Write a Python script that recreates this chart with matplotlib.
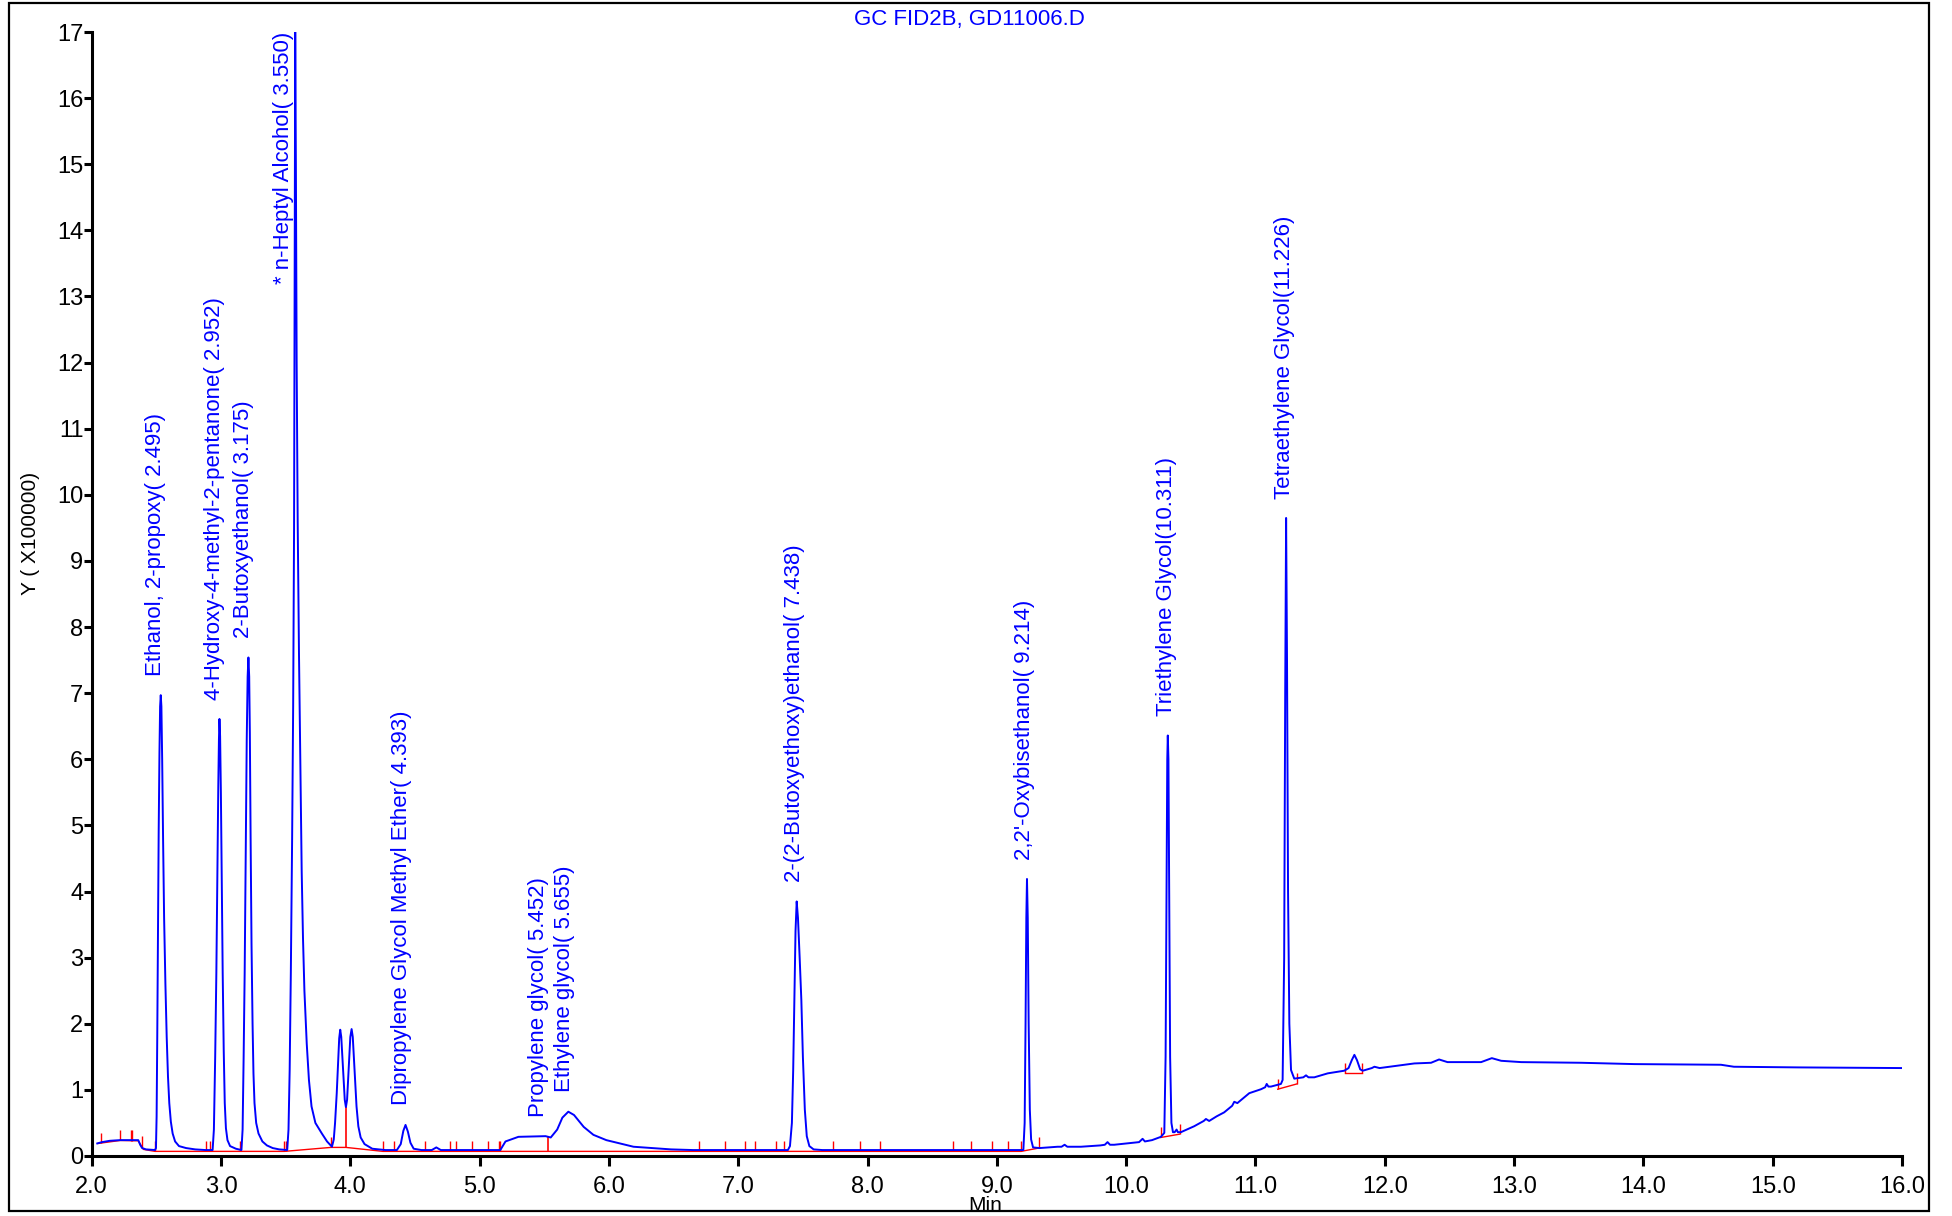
import numpy as np
import matplotlib
matplotlib.use("Agg")
import matplotlib.pyplot as plt
from matplotlib import font_manager
from matplotlib.patches import Rectangle

# ---------------- data ----------------
title_text = "GC FID2B, GD11006.D"
x_label = "Min"
y_label = "Y ( X100000)"

x_ticks = [2.0, 3.0, 4.0, 5.0, 6.0, 7.0, 8.0, 9.0, 10.0, 11.0, 12.0, 13.0, 14.0, 15.0, 16.0]
y_ticks = list(range(0, 18))

time_min = [
    2.043, 2.08, 2.14, 2.22, 2.30, 2.36, 2.375, 2.39, 2.42, 2.490,
    2.497, 2.502, 2.507, 2.512, 2.518, 2.524, 2.529, 2.534, 2.539, 2.545,
    2.552, 2.560, 2.570, 2.580, 2.590, 2.600, 2.612, 2.626, 2.645, 2.675,
    2.73, 2.80, 2.88, 2.935, 2.945, 2.955, 2.964, 2.972, 2.979, 2.984,
    2.988, 2.993, 2.999, 3.006, 3.013, 3.021, 3.029, 3.038, 3.05, 3.07,
    3.115, 3.158, 3.167, 3.175, 3.183, 3.191, 3.199, 3.206, 3.212, 3.218,
    3.223, 3.229, 3.236, 3.244, 3.251, 3.259, 3.272, 3.29, 3.32, 3.355,
    3.40, 3.45, 3.512, 3.522, 3.531, 3.540, 3.550, 3.558, 3.565, 3.570,
    3.574, 3.579, 3.585, 3.593, 3.603, 3.614, 3.624, 3.634, 3.645, 3.663,
    3.68, 3.70, 3.73, 3.78, 3.82, 3.858, 3.872, 3.882, 3.895, 3.905,
    3.914, 3.922, 3.930, 3.944, 3.957, 3.966, 3.975, 3.988, 4.000, 4.010,
    4.019, 4.033, 4.048, 4.062, 4.08, 4.11, 4.17, 4.27, 4.36, 4.39,
    4.41, 4.427, 4.445, 4.465, 4.49, 4.55, 4.63, 4.665, 4.70, 5.16,
    5.20, 5.30, 5.51, 5.55, 5.60, 5.64, 5.686, 5.73, 5.805, 5.88,
    5.98, 6.19, 6.48, 6.65, 7.384, 7.40, 7.415, 7.425, 7.434, 7.443,
    7.452, 7.462, 7.475, 7.488, 7.50, 7.515, 7.53, 7.55, 7.583, 7.65,
    9.205, 9.215, 9.222, 9.228, 9.233, 9.239, 9.246, 9.255, 9.265, 9.28,
    9.33, 9.47, 9.50, 9.524, 9.545, 9.65, 9.80, 9.835, 9.856, 9.875,
    9.907, 10.0, 10.10, 10.127, 10.145, 10.20, 10.269, 10.295, 10.305, 10.312,
    10.318, 10.322, 10.327, 10.333, 10.34, 10.35, 10.362, 10.375, 10.39, 10.40,
    10.423, 10.526, 10.60, 10.617, 10.642, 10.70, 10.758, 10.82, 10.836, 10.86,
    10.952, 11.043, 11.075, 11.087, 11.10, 11.12, 11.197, 11.21, 11.222, 11.230,
    11.237, 11.244, 11.252, 11.262, 11.275, 11.30, 11.37, 11.391, 11.41, 11.455,
    11.559, 11.687, 11.72, 11.745, 11.765, 11.785, 11.81, 11.83, 11.90, 11.92,
    11.96, 12.229, 12.358, 12.42, 12.485, 12.745, 12.828, 12.90, 13.055, 13.52,
    13.93, 14.60, 14.70, 15.2, 16.0,
]
signal = [
    0.19, 0.21, 0.23, 0.24, 0.24, 0.24, 0.17, 0.12, 0.10, 0.09,
    0.12, 0.6, 1.8, 3.3, 4.9, 6.1, 6.8, 6.97, 6.8, 6.0,
    4.8, 3.6, 2.6, 1.8, 1.2, 0.80, 0.52, 0.34, 0.22, 0.15,
    0.12, 0.10, 0.09, 0.09, 0.4, 1.5, 2.77, 4.3, 5.6, 6.3,
    6.61, 6.35, 5.5, 4.1, 2.77, 1.6, 0.8, 0.42, 0.24, 0.15,
    0.11, 0.09, 0.4, 1.5, 2.77, 4.6, 6.3, 7.25, 7.54, 7.25,
    6.4, 4.8, 3.2, 2.0, 1.25, 0.8, 0.5, 0.34, 0.22, 0.16,
    0.12, 0.10, 0.09, 0.4, 1.3, 2.77, 4.8, 6.8, 9.5, 13.5,
    17.0, 15.0, 12.0, 9.6, 7.6, 5.8, 4.3, 3.3, 2.5, 1.7,
    1.15, 0.75, 0.50, 0.34, 0.22, 0.14, 0.25, 0.5, 0.95, 1.4,
    1.78, 1.91, 1.8, 1.3, 0.85, 0.74, 0.85, 1.35, 1.8, 1.92,
    1.8, 1.3, 0.75, 0.45, 0.28, 0.18, 0.11, 0.09, 0.09, 0.18,
    0.38, 0.47, 0.37, 0.2, 0.11, 0.09, 0.09, 0.13, 0.09, 0.09,
    0.22, 0.29, 0.30, 0.28, 0.40, 0.58, 0.67, 0.62, 0.44, 0.32,
    0.24, 0.14, 0.10, 0.09, 0.09, 0.15, 0.5, 1.3, 2.36, 3.4,
    3.85, 3.6, 3.0, 2.36, 1.5, 0.7, 0.3, 0.15, 0.10, 0.09,
    0.09, 0.5, 2.0, 3.6, 4.19, 3.6, 2.0, 0.7, 0.25, 0.13,
    0.12, 0.14, 0.14, 0.17, 0.14, 0.14, 0.16, 0.17, 0.21, 0.17,
    0.17, 0.19, 0.21, 0.26, 0.22, 0.24, 0.29, 0.35, 1.5, 4.0,
    6.0, 6.36, 6.0, 4.0, 1.5, 0.5, 0.36, 0.36, 0.40, 0.36,
    0.36, 0.45, 0.53, 0.56, 0.53, 0.60, 0.66, 0.76, 0.82, 0.80,
    0.95, 1.01, 1.04, 1.09, 1.05, 1.05, 1.09, 1.15, 3.0, 7.0,
    9.65, 7.5, 4.0, 2.0, 1.3, 1.17, 1.19, 1.22, 1.19, 1.19,
    1.25, 1.29, 1.33, 1.45, 1.53, 1.45, 1.31, 1.29, 1.33, 1.35,
    1.33, 1.40, 1.41, 1.46, 1.42, 1.42, 1.48, 1.44, 1.42, 1.41,
    1.39, 1.38, 1.35, 1.34, 1.33,
]

# integration baselines (red)
baseline_main_t = [2.05, 2.22, 2.36, 2.40, 2.49, 3.49, 3.85, 3.966, 4.252, 9.188, 9.324]
baseline_main_v = [0.19, 0.235, 0.23, 0.10, 0.07, 0.07, 0.13, 0.13, 0.07, 0.07, 0.12]
baseline_tri_t = [10.267, 10.413]
baseline_tri_v = [0.28, 0.33]
baseline_tetra_t = [11.172, 11.32]
baseline_tetra_v = [1.01, 1.09]
baseline_small_t = [11.693, 11.824]
baseline_small_v = [1.25, 1.25]

event_times = [2.07, 2.219, 2.302, 2.315, 2.387, 2.490, 2.885, 2.916, 3.148, 3.488,
               3.504, 3.850, 4.252, 4.335, 4.574, 4.768, 4.820, 4.941, 5.062, 5.147,
               5.160, 6.700, 6.896, 7.050, 7.129, 7.295, 7.354, 7.731, 7.944, 8.095,
               8.663, 8.803, 8.966, 9.087, 9.188, 9.324, 10.267, 10.413, 11.172, 11.32,
               11.693, 11.824]
drop_times = [3.966, 5.526]

peak_names = [
    "Ethanol, 2-propoxy( 2.495)",
    "4-Hydroxy-4-methyl-2-pentanone( 2.952)",
    "2-Butoxyethanol( 3.175)",
    "* n-Heptyl Alcohol( 3.550)",
    "Dipropylene Glycol Methyl Ether( 4.393)",
    "Propylene glycol( 5.452)",
    "Ethylene glycol( 5.655)",
    "2-(2-Butoxyethoxy)ethanol( 7.438)",
    "2,2'-Oxybisethanol( 9.214)",
    "Triethylene Glycol(10.311)",
    "Tetraethylene Glycol(11.226)",
]
peak_rts = [2.495, 2.952, 3.175, 3.550, 4.393, 5.452, 5.655, 7.438, 9.214, 10.311, 11.226]

# ---------------- style ----------------
BLUE = "#0000FF"
RED = "#FF0000"


def have_font(name):
    try:
        font_manager.findfont(font_manager.FontProperties(family=name), fallback_to_default=False)
        return True
    except Exception:
        return False


label_font = "Liberation Sans" if have_font("Liberation Sans") else "DejaVu Sans"
tick_font = "Liberation Sans Narrow" if have_font("Liberation Sans Narrow") else label_font
plt.rcParams["font.family"] = [label_font, "DejaVu Sans"]

W, H = 1952, 1216
fig = plt.figure(figsize=(W / 100, H / 100), dpi=100)
fig.patch.set_facecolor("white")

ax_left, ax_right = 91.7, 1902.0
ax_bottom, ax_top = 1156.0, 32.0
ax = fig.add_axes([ax_left / W, (H - ax_bottom) / H,
                   (ax_right - ax_left) / W, (ax_bottom - ax_top) / H])
ax.set_xlim(x_ticks[0], x_ticks[-1])
ax.set_ylim(y_ticks[0], y_ticks[-1])
ax.patch.set_alpha(0)

for s in ("top", "right"):
    ax.spines[s].set_visible(False)
for s in ("left", "bottom"):
    ax.spines[s].set_linewidth(2.2)
    ax.spines[s].set_color("black")

ax.set_xticks(x_ticks)
ax.set_xticklabels([f"{v:.1f}" for v in x_ticks])
ax.set_yticks(y_ticks)
ax.set_yticklabels([str(v) for v in y_ticks])
ax.tick_params(axis="x", direction="out", length=7.5, width=2.2, pad=7, labelsize=17)
ax.tick_params(axis="y", direction="out", length=6, width=2.2, pad=0, labelsize=17)
for lab in ax.get_xticklabels() + ax.get_yticklabels():
    lab.set_fontfamily(tick_font)

# red integration baselines
for bt, bv in ((baseline_main_t, baseline_main_v), (baseline_tri_t, baseline_tri_v),
               (baseline_tetra_t, baseline_tetra_v), (baseline_small_t, baseline_small_v)):
    ax.plot(bt, bv, color=RED, lw=1.0, zorder=2)


def baseline_at(t):
    for bt, bv in ((baseline_tri_t, baseline_tri_v), (baseline_tetra_t, baseline_tetra_v),
                   (baseline_small_t, baseline_small_v)):
        if bt[0] - 1e-6 <= t <= bt[-1] + 1e-6:
            return float(np.interp(t, bt, bv))
    return float(np.interp(t, baseline_main_t, baseline_main_v))


ev_base = [baseline_at(t) for t in event_times]
ax.vlines(event_times, ev_base, [b + 0.16 for b in ev_base], color=RED, lw=1.0, zorder=2)
drop_base = [baseline_at(t) for t in drop_times]
drop_top = [float(np.interp(t, time_min, signal)) for t in drop_times]
ax.vlines(drop_times, drop_base, drop_top, color=RED, lw=1.2, zorder=2)

# chromatogram
ax.plot(time_min, signal, color=BLUE, lw=1.4, zorder=3, solid_joinstyle="round")

# peak labels
t_arr = np.array(time_min)
s_arr = np.array(signal)
ymax = y_ticks[-1]
for name, rt in zip(peak_names, peak_rts):
    win = (t_arr >= rt - 0.06) & (t_arr <= rt + 0.06)
    apex = float(s_arr[win].max())
    if apex >= 0.95 * ymax:
        ax.annotate(name, xy=(rt, ymax), xytext=(-6, 0), textcoords="offset points",
                    rotation=90, ha="center", va="top", color=BLUE, fontsize=16,
                    annotation_clip=False)
    else:
        ax.annotate(name, xy=(rt, apex), xytext=(0, 14), textcoords="offset points",
                    rotation=90, ha="center", va="bottom", color=BLUE, fontsize=16,
                    annotation_clip=False)

# titles / axis labels
fig.text(969 / W, 1 - 19 / H, title_text, color=BLUE, fontsize=16, ha="center", va="center")
fig.text(31 / W, 1 - 533 / H, y_label, rotation=90, fontsize=15, ha="center", va="center")
fig.text(985 / W, 1 - 1211 / H, x_label, fontsize=15, ha="center", va="baseline")

# page frame
fig.add_artist(Rectangle((9 / W, 1 - 1211 / H), (1929 - 9) / W, (1211 - 2.5) / H,
                         transform=fig.transFigure, fill=False, lw=1.6, ec="black"))

fig.savefig("out.png", dpi=100)
